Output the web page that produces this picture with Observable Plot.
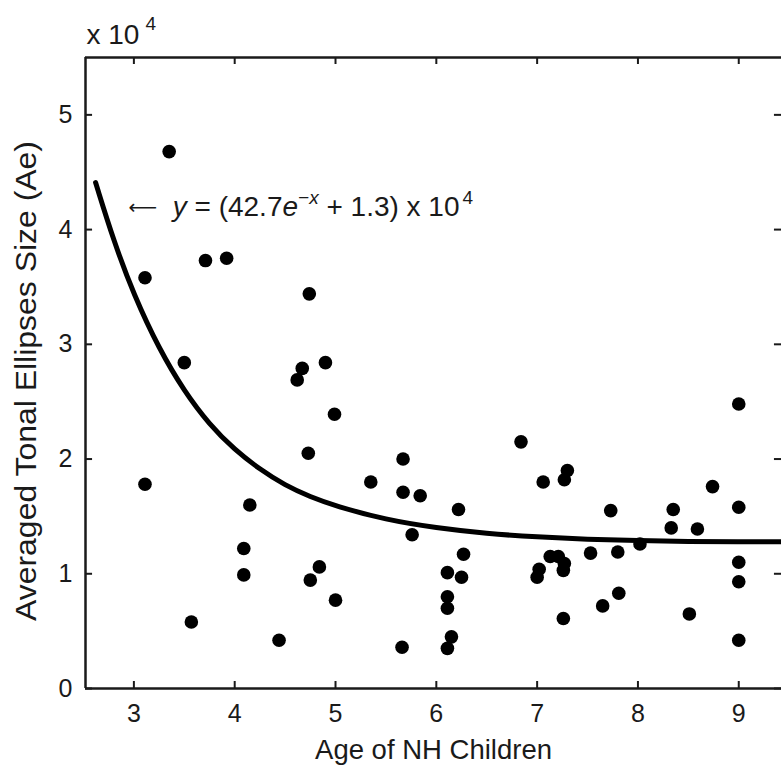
<!DOCTYPE html>
<html>
<head>
<meta charset="utf-8">
<script src="https://cdn.jsdelivr.net/npm/d3@7"></script>
<script src="https://cdn.jsdelivr.net/npm/@observablehq/plot@0.6"></script>
<style>
  html, body { margin: 0; padding: 0; background: #fff; }
  #chart svg { display: block; }
</style>
</head>
<body>
<div id="chart"></div>
<script>
// Scatter data: age (years) and averaged tonal ellipse size (x 10^4)
const ages = [3.11, 3.11, 3.35, 3.50, 3.57, 3.71, 3.92, 4.09, 4.09, 4.15,
  4.44, 4.62, 4.67, 4.73, 4.74, 4.75, 4.84, 4.90, 4.99, 5.00,
  5.35, 5.66, 5.67, 5.67, 5.76, 5.84, 6.11, 6.11, 6.11, 6.11,
  6.15, 6.22, 6.25, 6.27, 6.84, 7.00, 7.02, 7.06, 7.13, 7.21,
  7.26, 7.26, 7.27, 7.27, 7.30, 7.53, 7.65, 7.73, 7.80, 7.81,
  8.02, 8.33, 8.35, 8.51, 8.59, 8.74, 9.00, 9.00, 9.00, 9.00, 9.00];
const sizes = [3.58, 1.78, 4.68, 2.84, 0.58, 3.73, 3.75, 1.22, 0.99, 1.60,
  0.42, 2.69, 2.79, 2.05, 3.44, 0.945, 1.06, 2.84, 2.39, 0.77,
  1.80, 0.36, 2.00, 1.71, 1.34, 1.68, 1.01, 0.80, 0.70, 0.35,
  0.45, 1.56, 0.97, 1.17, 2.15, 0.97, 1.04, 1.80, 1.15, 1.15,
  1.03, 0.61, 1.09, 1.82, 1.90, 1.18, 0.72, 1.55, 1.19, 0.83,
  1.26, 1.40, 1.56, 0.65, 1.39, 1.76, 2.48, 1.58, 1.10, 0.93, 0.42];

// Fitted curve, points
const curveAge  = [2.62, 2.8, 3.0, 3.25, 3.5, 3.75, 4.0, 4.25, 4.5, 4.75, 5.0, 5.5, 6.0, 6.5, 7.0, 7.5, 8.0, 8.5, 9.0, 9.43];
const curveSize = [4.41, 3.90, 3.43, 2.96, 2.59, 2.30, 2.08, 1.91, 1.77, 1.67, 1.59, 1.47, 1.40, 1.35, 1.32, 1.30, 1.29, 1.28, 1.28, 1.28];

const xTicks = [3, 4, 5, 6, 7, 8, 9];
const yTicks = [0, 1, 2, 3, 4, 5];
const xDomain = [2.52, 9.424];
const yDomain = [0, 5.5];

const points = ages.map((a, i) => ({age: a, size: sizes[i]}));
const curve = curveAge.map((a, i) => ({age: a, size: curveSize[i]}));

const ink = "#1a1a1a";
const font = "'Liberation Sans', Arial, Helvetica, sans-serif";
const xTick = 0.07;   // tick length in x units (~7px)
const yTick = 0.061;  // tick length in y units (~7px)

const chart = Plot.plot({
  width: 781,
  height: 768,
  marginLeft: 85,
  marginRight: 0,
  marginTop: 57,
  marginBottom: 80,
  style: {fontFamily: font, color: ink, background: "#fff"},
  x: {domain: xDomain, label: null},
  y: {domain: yDomain, label: null},
  marks: [
    Plot.axisX(xTicks, {anchor: "bottom", label: null, tickFormat: d => String(d), tickSize: 0, tickPadding: 16, fontSize: 25, fill: ink}),
    Plot.axisY(yTicks, {anchor: "left", label: null, tickFormat: d => String(d), tickSize: 0, tickPadding: 13, fontSize: 25, fill: ink}),
    // ticks pointing inward
    Plot.ruleX(xTicks, {x: d => d, y1: yDomain[0], y2: yDomain[0] + yTick, stroke: ink, strokeWidth: 2}),
    Plot.ruleX(xTicks, {x: d => d, y1: yDomain[1] - yTick, y2: yDomain[1], stroke: ink, strokeWidth: 2}),
    Plot.ruleY(yTicks, {y: d => d, x1: xDomain[0], x2: xDomain[0] + xTick, stroke: ink, strokeWidth: 2}),
    Plot.ruleY(yTicks, {y: d => d, x1: xDomain[1] - xTick, x2: xDomain[1], stroke: ink, strokeWidth: 2}),
    // frame
    Plot.ruleY([yDomain[0]], {stroke: ink, strokeWidth: 2.5}),
    Plot.ruleY([yDomain[1]], {stroke: ink, strokeWidth: 2.5}),
    Plot.ruleX([xDomain[0]], {stroke: ink, strokeWidth: 2.5}),
    // data
    Plot.line(curve, {x: "age", y: "size", stroke: "#000", strokeWidth: 5, curve: "basis", clip: true}),
    Plot.dot(points, {x: "age", y: "size", r: 6.8, fill: "#000", stroke: "none"}),
    // texts
    Plot.text(["x 10"], {frameAnchor: "top-left", dx: 1, dy: -14, textAnchor: "start", lineAnchor: "bottom", fontSize: 28, fill: ink}),
    Plot.text(["eq"], {frameAnchor: "top-left", dx: 43, dy: 158, textAnchor: "start", lineAnchor: "bottom", fontSize: 28, fill: ink}),
    Plot.text(["Age of NH Children"], {frameAnchor: "bottom", dy: 70, lineAnchor: "bottom", fontSize: 27.5, fill: ink}),
    Plot.text(["Averaged Tonal Ellipses Size (Ae)"], {frameAnchor: "left", textAnchor: "middle", dx: -50, dy: 8, rotate: -90, lineAnchor: "bottom", fontSize: 30, fill: ink})
  ]
});

// Rich text for superscripts and italics
const svg = d3.select(chart);
const byText = s => svg.selectAll("text").filter(function() { return this.textContent === s; });

const ex = byText("x 10");
ex.text(null);
ex.append("tspan").text("x 10");
ex.append("tspan").attr("dx", 6).attr("dy", -14).attr("font-size", 19).text("4");

const eq = byText("eq");
eq.text(null);
eq.append("tspan").attr("font-family", "'DejaVu Sans', sans-serif").attr("font-size", 20).attr("dy", -2).text("\u27F5");
eq.append("tspan").attr("dy", 2).text("  ");
eq.append("tspan").attr("font-style", "italic").text("y");
eq.append("tspan").text(" = (42.7");
eq.append("tspan").attr("font-style", "italic").text("e");
eq.append("tspan").attr("dy", -12).attr("font-size", 19).attr("font-style", "italic").text("\u2212x");
eq.append("tspan").attr("dy", 12).text(" + 1.3) x 10");
eq.append("tspan").attr("dx", 3).attr("dy", -12).attr("font-size", 19).text("4");

// stretch the rotated y label to the reference's length
byText("Averaged Tonal Ellipses Size (Ae)").attr("textLength", 480).attr("lengthAdjust", "spacingAndGlyphs");

document.getElementById("chart").appendChild(chart);
</script>
</body>
</html>
